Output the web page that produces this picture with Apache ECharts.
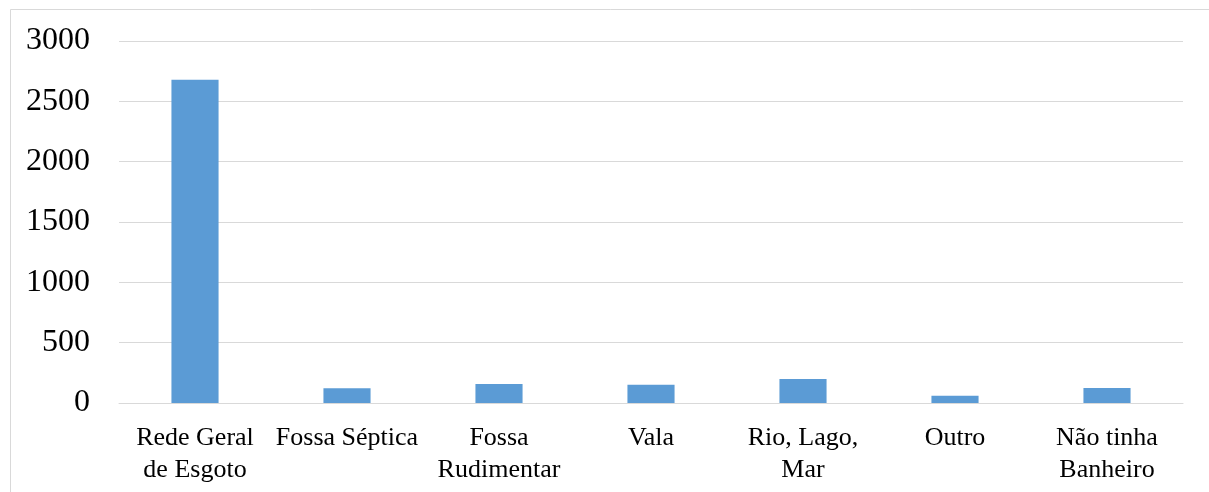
<!DOCTYPE html>
<html>
<head>
<meta charset="utf-8">
<script src="https://cdn.jsdelivr.net/npm/echarts@6/dist/echarts.min.js"></script>
<style>
  html, body { margin: 0; padding: 0; background: #fff; }
  #chart { width: 1209px; height: 492px; }
</style>
</head>
<body>
<div id="chart"></div>
<script>
// categories and values
const categories = ['Rede Geral\nde Esgoto', 'Fossa Séptica', 'Fossa\nRudimentar', 'Vala', 'Rio, Lago,\nMar', 'Outro', 'Não tinha\nBanheiro'];
const values = [2678, 122, 157, 151, 199, 60, 124];

const chart = echarts.init(document.getElementById('chart'));

const option = {
  animation: false,
  backgroundColor: '#fff',
  graphic: [
    {
      type: 'rect',
      shape: { x: 10.5, y: 9.5, width: 1205, height: 500 },
      style: { fill: 'none', stroke: '#d9d9d9', lineWidth: 1 },
      silent: true
    }
  ],
  grid: { left: 119, right: 26, top: 41, bottom: 89 },
  xAxis: {
    type: 'category',
    data: categories,
    axisTick: { show: false },
    axisLine: { lineStyle: { color: '#d9d9d9', width: 1 } },
    axisLabel: {
      interval: 0,
      margin: 19,
      fontFamily: 'Liberation Serif',
      fontSize: 26,
      lineHeight: 32,
      color: '#000'
    }
  },
  yAxis: {
    type: 'value',
    min: 0,
    max: 3000,
    interval: 500,
    axisLine: { show: false },
    axisTick: { show: false },
    splitLine: { lineStyle: { color: '#d9d9d9', width: 1 } },
    axisLabel: {
      margin: 29,
      fontFamily: 'Liberation Serif',
      fontSize: 32,
      color: '#000',
      formatter: v => String(v)
    }
  },
  series: [
    {
      type: 'bar',
      data: values,
      barWidth: '31%',
      itemStyle: { color: '#5b9bd5' }
    }
  ]
};

chart.setOption(option);
</script>
</body>
</html>
